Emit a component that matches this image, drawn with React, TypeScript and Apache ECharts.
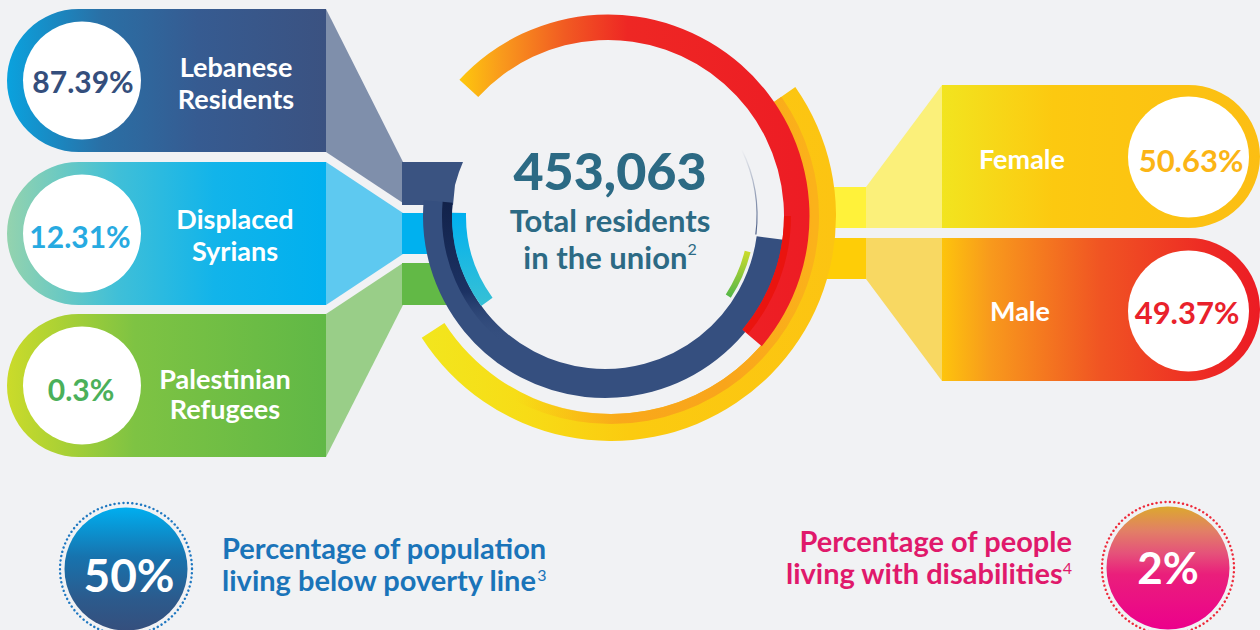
import React, { useEffect, useRef } from "react";
import * as echarts from "echarts";

// ---------------- data ----------------
const residentLines = [
  ["Lebanese", "Residents"],
  ["Displaced", "Syrians"],
  ["Palestinian", "Refugees"],
];
const residentShares = [87.39, 12.31, 0.3];
const genderGroups = ["Female", "Male"];
const genderShares = [50.63, 49.37];
const totalResidents = 453063;
const totalCaption = ["Total residents", "in the union"];
const totalNote = "2";
const indicatorShares = [50, 2];
const indicatorLines = [
  ["Percentage of population", "living below poverty line"],
  ["Percentage of people", "living with disabilities"],
];
const indicatorNotes = ["3", "4"];

// ---------------- style / layout ----------------
const BG = "#f1f2f4";
const FONT = "Lato, 'Open Sans', sans-serif";
const rad = (d: number) => (d * Math.PI) / 180;
const grad = (x0: number, y0: number, x1: number, y1: number, stops: any[]) =>
  new echarts.graphic.LinearGradient(
    x0, y0, x1, y1,
    stops.map(([offset, color]: any) => ({ offset, color }))
  );
const pct = (v: number) => `${v}%`;

const leftRows = [
  {
    y: 9,
    fill: [[0, "#0aa2de"], [0.3, "#2a6fa5"], [0.6, "#365b91"], [1, "#3b5281"]],
    trap: [[326, 9], [403, 162], [403, 203], [326, 152]],
    trapFill: "#7f8fab",
    valueColor: "#344e7c",
    vx: 83, vy: 80.5, lx: 236, ly: [66, 98],
  },
  {
    y: 162,
    fill: [[0, "#94d3ae"], [0.35, "#3fbfd8"], [0.65, "#12b4ea"], [1, "#00b0ef"]],
    trap: [[326, 162], [403, 213], [403, 254], [326, 305]],
    trapFill: "#5ec9f0",
    valueColor: "#27aae1",
    vx: 80, vy: 235.5, lx: 235, ly: [218, 250],
  },
  {
    y: 314,
    fill: [[0, "#cbdb2a"], [0.4, "#7ec343"], [1, "#60b846"]],
    trap: [[326, 314], [403, 263], [403, 305], [326, 457]],
    trapFill: "#99ce88",
    valueColor: "#4bb05a",
    vx: 81, vy: 388.5, lx: 225, ly: [378, 408],
  },
];

const rightRows = [
  {
    y: 85,
    fill: [[0, "#f2e41f"], [0.35, "#fcc910"], [1, "#fcbe13"]],
    trap: [[866, 187], [942, 85], [942, 228], [866, 228]],
    trapFill: "#fbf07a",
    conn: [815, 187, 51, 41],
    connFill: "#fff23a",
    valueColor: "#fbb515",
    vx: 1191, vy: 159.5, lx: 1022, ly: 158, cy: 157,
  },
  {
    y: 238,
    fill: [[0, "#fdc40d"], [0.15, "#f89a1c"], [0.5, "#f05423"], [0.85, "#ed2824"], [1, "#ec1c24"]],
    trap: [[866, 238], [942, 238], [942, 381], [866, 279]],
    trapFill: "#f8d862",
    conn: [815, 238, 51, 41],
    connFill: "#fecd07",
    valueColor: "#e9212b",
    vx: 1187, vy: 311.5, lx: 1020, ly: 310, cy: 311,
  },
];

const indicators = [
  {
    cx: 126, cy: 569, dot: "#1f78c1",
    fill: [[0, "#00aeef"], [0.4, "#1773ae"], [0.75, "#2c5a8c"], [1, "#354f7d"]],
    textColor: "#1a74b9", tx: 222, align: "left", ty: [547.5, 579.5],
    vx: 129, vy: 574, vs: 46,
  },
  {
    cx: 1168, cy: 568, dot: "#ee2a3a",
    fill: [[0, "#dca82e"], [0.2, "#e27f66"], [0.38, "#e5527a"], [0.55, "#ea1f7b"], [1, "#ec008c"]],
    textColor: "#e0196b", tx: 1072, align: "right", ty: [540.5, 572.5],
    vx: 1168, vy: 567, vs: 44,
  },
];

const text = (
  x: number, y: number, t: string, size: number, color: string,
  align = "center", weight: any = "bold", z = 10
) => ({
  type: "text", x, y, z,
  style: {
    text: t, fill: color, fontSize: size, fontWeight: weight,
    fontFamily: FONT, align, verticalAlign: "middle", lineHeight: Math.round(size * 0.95),
  },
});

const supText = (
  x: number, y: number, main: string, sup: string, size: number,
  color: string, align: string, supLH: number, mainLH = 28
) => ({
  type: "text", x, y, z: 10,
  style: {
    text: `{m|${main}}{s|${sup}}`,
    align, verticalAlign: "middle",
    rich: {
      m: { fontSize: size, fontWeight: "bold", fontFamily: FONT, fill: color, lineHeight: mainLH },
      s: { fontSize: 16, fontWeight: "normal", fontFamily: FONT, fill: color, lineHeight: supLH, verticalAlign: "top" },
    },
  },
});

function buildOption() {
  const g: any[] = [];

  // left resident boxes
  leftRows.forEach((row, i) => {
    g.push({ type: "polygon", z: 1, shape: { points: row.trap }, style: { fill: row.trapFill } });
    g.push({
      type: "rect", z: 1,
      shape: { x: 7, y: row.y, width: 319, height: 143, r: [71.5, 0, 0, 71.5] },
      style: { fill: grad(0, 0, 1, 0, row.fill) },
    });
    g.push({ type: "circle", z: 2, shape: { cx: 82, cy: row.y + 71.5, r: 59 }, style: { fill: "#fff" } });
    g.push(text(row.vx, row.vy, pct(residentShares[i]), 30, row.valueColor));
    residentLines[i].forEach((t, k) => g.push(text(row.lx, row.ly[k], t, 27, "#ffffff")));
  });

  // connectors into the ring
  g.push({
    type: "polygon", z: 2,
    shape: { points: [[402, 162], [463, 162], [459, 172], [455, 185], [453, 205], [402, 205]] },
    style: { fill: "#3a5381" },
  });
  g.push({ type: "rect", z: 2, shape: { x: 402, y: 213, width: 54, height: 41 }, style: { fill: "#00b1ef" } });
  g.push({ type: "rect", z: 2, shape: { x: 402, y: 263, width: 46, height: 42 }, style: { fill: "#62b946" } });

  // resident ring (decorative arcs)
  const C = { cx: 605, cy: 216 };
  g.push({
    type: "arc", z: 3,
    shape: { ...C, r: 167.5, startAngle: rad(7.6), endAngle: rad(185), clockwise: true },
    style: { stroke: "#354f7f", lineWidth: 29, fill: "none" },
  });
  g.push({
    type: "arc", z: 4,
    shape: { ...C, r: 158, startAngle: rad(128), endAngle: rad(185), clockwise: true },
    style: {
      stroke: grad(0, 1, 0, 0, [[0, "rgba(53,79,127,0)"], [0.35, "#1c3263"], [1, "#12224a"]]),
      lineWidth: 10, fill: "none",
    },
  });
  g.push({
    type: "arc", z: 4,
    shape: { ...C, r: 146, startAngle: rad(144), endAngle: rad(181.2), clockwise: true },
    style: { stroke: grad(0, 0, 0, 1, [[0, "#00b0ef"], [1, "#35c0d6"]]), lineWidth: 14, fill: "none" },
  });
  g.push({
    type: "arc", z: 4,
    shape: { ...C, r: 147, startAngle: rad(14), endAngle: rad(33), clockwise: true },
    style: { stroke: grad(0, 0, 0, 1, [[0, "#cadb2c"], [1, "#57b748"]]), lineWidth: 6, fill: "none" },
  });
  g.push({
    type: "arc", z: 4,
    shape: { ...C, r: 152, startAngle: rad(-26), endAngle: rad(7), clockwise: true },
    style: { stroke: grad(0, 0, 0, 1, [[0, "rgba(74,93,133,0)"], [1, "#4a5d85"]]), lineWidth: 1.2, fill: "none" },
  });

  // orange inner stripe of yellow ring
  g.push({
    type: "arc", z: 6,
    shape: { cx: 611, cy: 216, r: 203, startAngle: rad(-35), endAngle: rad(118), clockwise: true },
    style: {
      stroke: grad(0, 0, 1, 0, [[0, "rgba(250,180,20,0)"], [0.35, "rgba(249,165,27,0.9)"], [0.7, "#f9a51b"], [1, "#fbb21a"]]),
      lineWidth: 10, fill: "none",
    },
  });
  // darker inner band of red ring
  g.push({
    type: "arc", z: 8,
    shape: { cx: 608, cy: 216, r: 179.5, startAngle: rad(0), endAngle: rad(40), clockwise: true },
    style: { stroke: "#ea140f", lineWidth: 7, fill: "none" },
  });

  // center texts
  g.push(text(610, 169.5, totalResidents.toLocaleString("en-US"), 52, "#2c6a84", "center", 900));
  g.push(text(610, 220, totalCaption[0], 31, "#2c6a84"));
  g.push(supText(610, 257, totalCaption[1], totalNote, 31, "#2c6a84", "center", 22, 34));

  // right gender boxes
  rightRows.forEach((row, i) => {
    g.push({
      type: "rect", z: 1,
      shape: { x: row.conn[0], y: row.conn[1], width: row.conn[2], height: row.conn[3] },
      style: { fill: row.connFill },
    });
    g.push({ type: "polygon", z: 1, shape: { points: row.trap }, style: { fill: row.trapFill } });
    g.push({
      type: "rect", z: 1,
      shape: { x: 942, y: row.y, width: 318, height: 143, r: [0, 71.5, 71.5, 0] },
      style: { fill: grad(0, 0, 1, 0, row.fill) },
    });
    g.push({ type: "circle", z: 2, shape: { cx: 1188.5, cy: row.cy, r: 60.5 }, style: { fill: "#fff" } });
    g.push(text(row.vx, row.vy, pct(genderShares[i]), 31, row.valueColor));
    g.push(text(row.lx, row.ly, genderGroups[i], 27, "#ffffff"));
  });

  // bottom indicators
  indicators.forEach((ind, i) => {
    g.push({
      type: "circle", z: 1,
      shape: { cx: ind.cx, cy: ind.cy, r: 66 },
      style: { fill: "none", stroke: ind.dot, lineWidth: 2.4, lineDash: [0.1, 4.3], lineCap: "round" },
    });
    g.push({
      type: "circle", z: 2,
      shape: { cx: ind.cx, cy: ind.cy, r: 61.5 },
      style: { fill: grad(0, 0, 0, 1, ind.fill) },
    });
    g.push(text(ind.vx, ind.vy, pct(indicatorShares[i]), ind.vs, "#ffffff"));
    g.push(text(ind.tx, ind.ty[0], indicatorLines[i][0], 29, ind.textColor, ind.align));
    g.push(supText(ind.tx, ind.ty[1], indicatorLines[i][1], indicatorNotes[i], 29, ind.textColor, ind.align, 17, 27));
  });

  const pieBase = {
    type: "pie",
    clockwise: true,
    silent: true,
    label: { show: false },
    labelLine: { show: false },
    emphasis: { disabled: true },
    itemStyle: { borderWidth: 0 },
    animation: false,
  };

  return {
    animation: false,
    backgroundColor: BG,
    graphic: { elements: g },
    series: [
      {
        ...pieBase,
        name: "Female ring",
        z: 5,
        center: [611, 216],
        radius: [198, 225],
        startAngle: 35,
        data: [
          {
            name: genderGroups[0], value: genderShares[0],
            itemStyle: { color: grad(0, 0, 1, 0, [[0, "#f2e61e"], [0.25, "#f7dc16"], [0.5, "#fbcb10"], [1, "#fcc412"]]) },
          },
          { name: genderGroups[1], value: genderShares[1], itemStyle: { color: "rgba(0,0,0,0)" } },
        ],
      },
      {
        ...pieBase,
        name: "Male ring",
        z: 7,
        center: [608, 216],
        radius: [176, 201.5],
        startAngle: 137.5,
        data: [
          {
            name: genderGroups[1], value: genderShares[1],
            itemStyle: { color: grad(0, 0, 1, 0, [[0, "#fec80d"], [0.12, "#f99a1c"], [0.3, "#f15b22"], [0.48, "#ee2724"], [1, "#ed1c24"]]) },
          },
          { name: genderGroups[0], value: genderShares[0], itemStyle: { color: "rgba(0,0,0,0)" } },
        ],
      },
    ],
  };
}

export default function App() {
  const ref = useRef<HTMLDivElement>(null);
  useEffect(() => {
    const chart = echarts.init(ref.current as HTMLDivElement, undefined, { renderer: "svg" });
    chart.setOption(buildOption() as any);
    return () => chart.dispose();
  }, []);
  return (
    <div
      ref={ref}
      style={{ position: "fixed", left: 0, top: 0, width: 1260, height: 630, background: BG }}
    />
  );
}
